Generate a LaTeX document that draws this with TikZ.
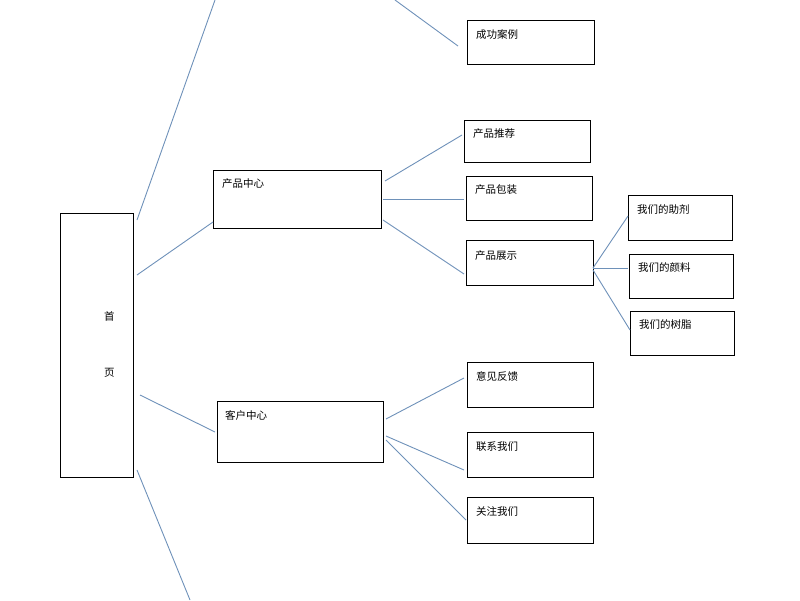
\documentclass[tikz,border=0pt]{standalone}
\usepackage{fontspec}
\setmainfont{Noto Sans CJK SC}
\definecolor{linkblue}{RGB}{110,145,185}
\begin{document}
\begin{tikzpicture}[x=1pt,y=-1pt,
  box/.style={draw,line width=0.8pt},
  lbl/.style={anchor=north west,inner sep=0pt,font=\fontsize{10.5}{12}\selectfont},
  link/.style={draw=linkblue,line width=0.9pt}]
  \useasboundingbox (0,0) rectangle (800,600);
  % boxes
  \draw[box] (60,213) rectangle (133,477);
  \node[lbl] (home1) at (104,311) {首};
  \node[lbl] (home2) at (104,368) {页};
  \draw[box] (213,170) rectangle (381,228);
  \node[lbl] (prod) at (222,178) {产品中心};
  \draw[box] (217,401) rectangle (383,462);
  \node[lbl] (cust) at (225,410) {客户中心};
  \draw[box] (467,20) rectangle (594,64);
  \node[lbl] (case) at (476,29) {成功案例};
  \draw[box] (464,120) rectangle (590,162);
  \node[lbl] (rec) at (473,128) {产品推荐};
  \draw[box] (466,176) rectangle (592,220);
  \node[lbl] (pack) at (475,184) {产品包装};
  \draw[box] (466,240) rectangle (593,285);
  \node[lbl] (show) at (475,250) {产品展示};
  \draw[box] (628,195) rectangle (732,240);
  \node[lbl] (aux) at (637,204) {我们的助剂};
  \draw[box] (629,254) rectangle (733,298);
  \node[lbl] (pig) at (638,262) {我们的颜料};
  \draw[box] (630,311) rectangle (734,355);
  \node[lbl] (res) at (639,319) {我们的树脂};
  \draw[box] (467,362) rectangle (593,407);
  \node[lbl] (fb) at (476,371) {意见反馈};
  \draw[box] (467,432) rectangle (593,477);
  \node[lbl] (cont) at (476,441) {联系我们};
  \draw[box] (467,497) rectangle (593,543);
  \node[lbl] (fol) at (476,506) {关注我们};
  % connectors
  \draw[link] (137,220) -- (215,0);
  \draw[link] (137,275) -- (213,222);
  \draw[link] (140,395) -- (215,432);
  \draw[link] (137,470) -- (190,600);
  \draw[link] (395,0) -- (458,46);
  \draw[link] (385,181) -- (462,135);
  \draw[link] (383,199) -- (464,199);
  \draw[link] (383,220) -- (464,274);
  \draw[link] (593,268) -- (628,216);
  \draw[link] (593,268) -- (628,268);
  \draw[link] (593,270) -- (630,330);
  \draw[link] (386,419) -- (464,378);
  \draw[link] (386,436) -- (464,470);
  \draw[link] (386,440) -- (466,520);
\end{tikzpicture}
\end{document}
